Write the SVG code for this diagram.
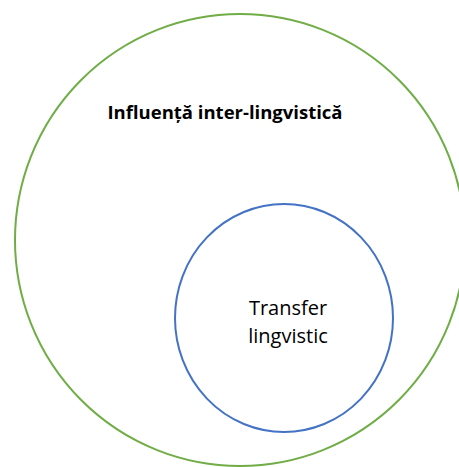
<svg xmlns="http://www.w3.org/2000/svg" width="459" height="467" viewBox="0 0 459 467">
<style>
.outer{fill:none;stroke:#70AD47;stroke-width:2}
.inner{fill:none;stroke:#4472C4;stroke-width:2}
.t{font-family:"Open Sans","Liberation Sans",sans-serif;fill:#000}
</style>
<rect width="459" height="467" fill="#fff"/>
<g id="influenta">
<ellipse class="outer" cx="240" cy="240" rx="225" ry="226"/>
<text class="t" x="225" y="119" font-size="18.5" font-weight="bold" text-anchor="middle">Influență inter-lingvistică</text>
</g>
<g id="transfer">
<ellipse class="inner" cx="284" cy="318" rx="109" ry="114"/>
<text class="t" x="288" y="315" font-size="20" text-anchor="middle">Transfer</text>
<text class="t" x="288" y="343" font-size="20" text-anchor="middle">lingvistic</text>
</g>
<g id="connectors"/>
</svg>
